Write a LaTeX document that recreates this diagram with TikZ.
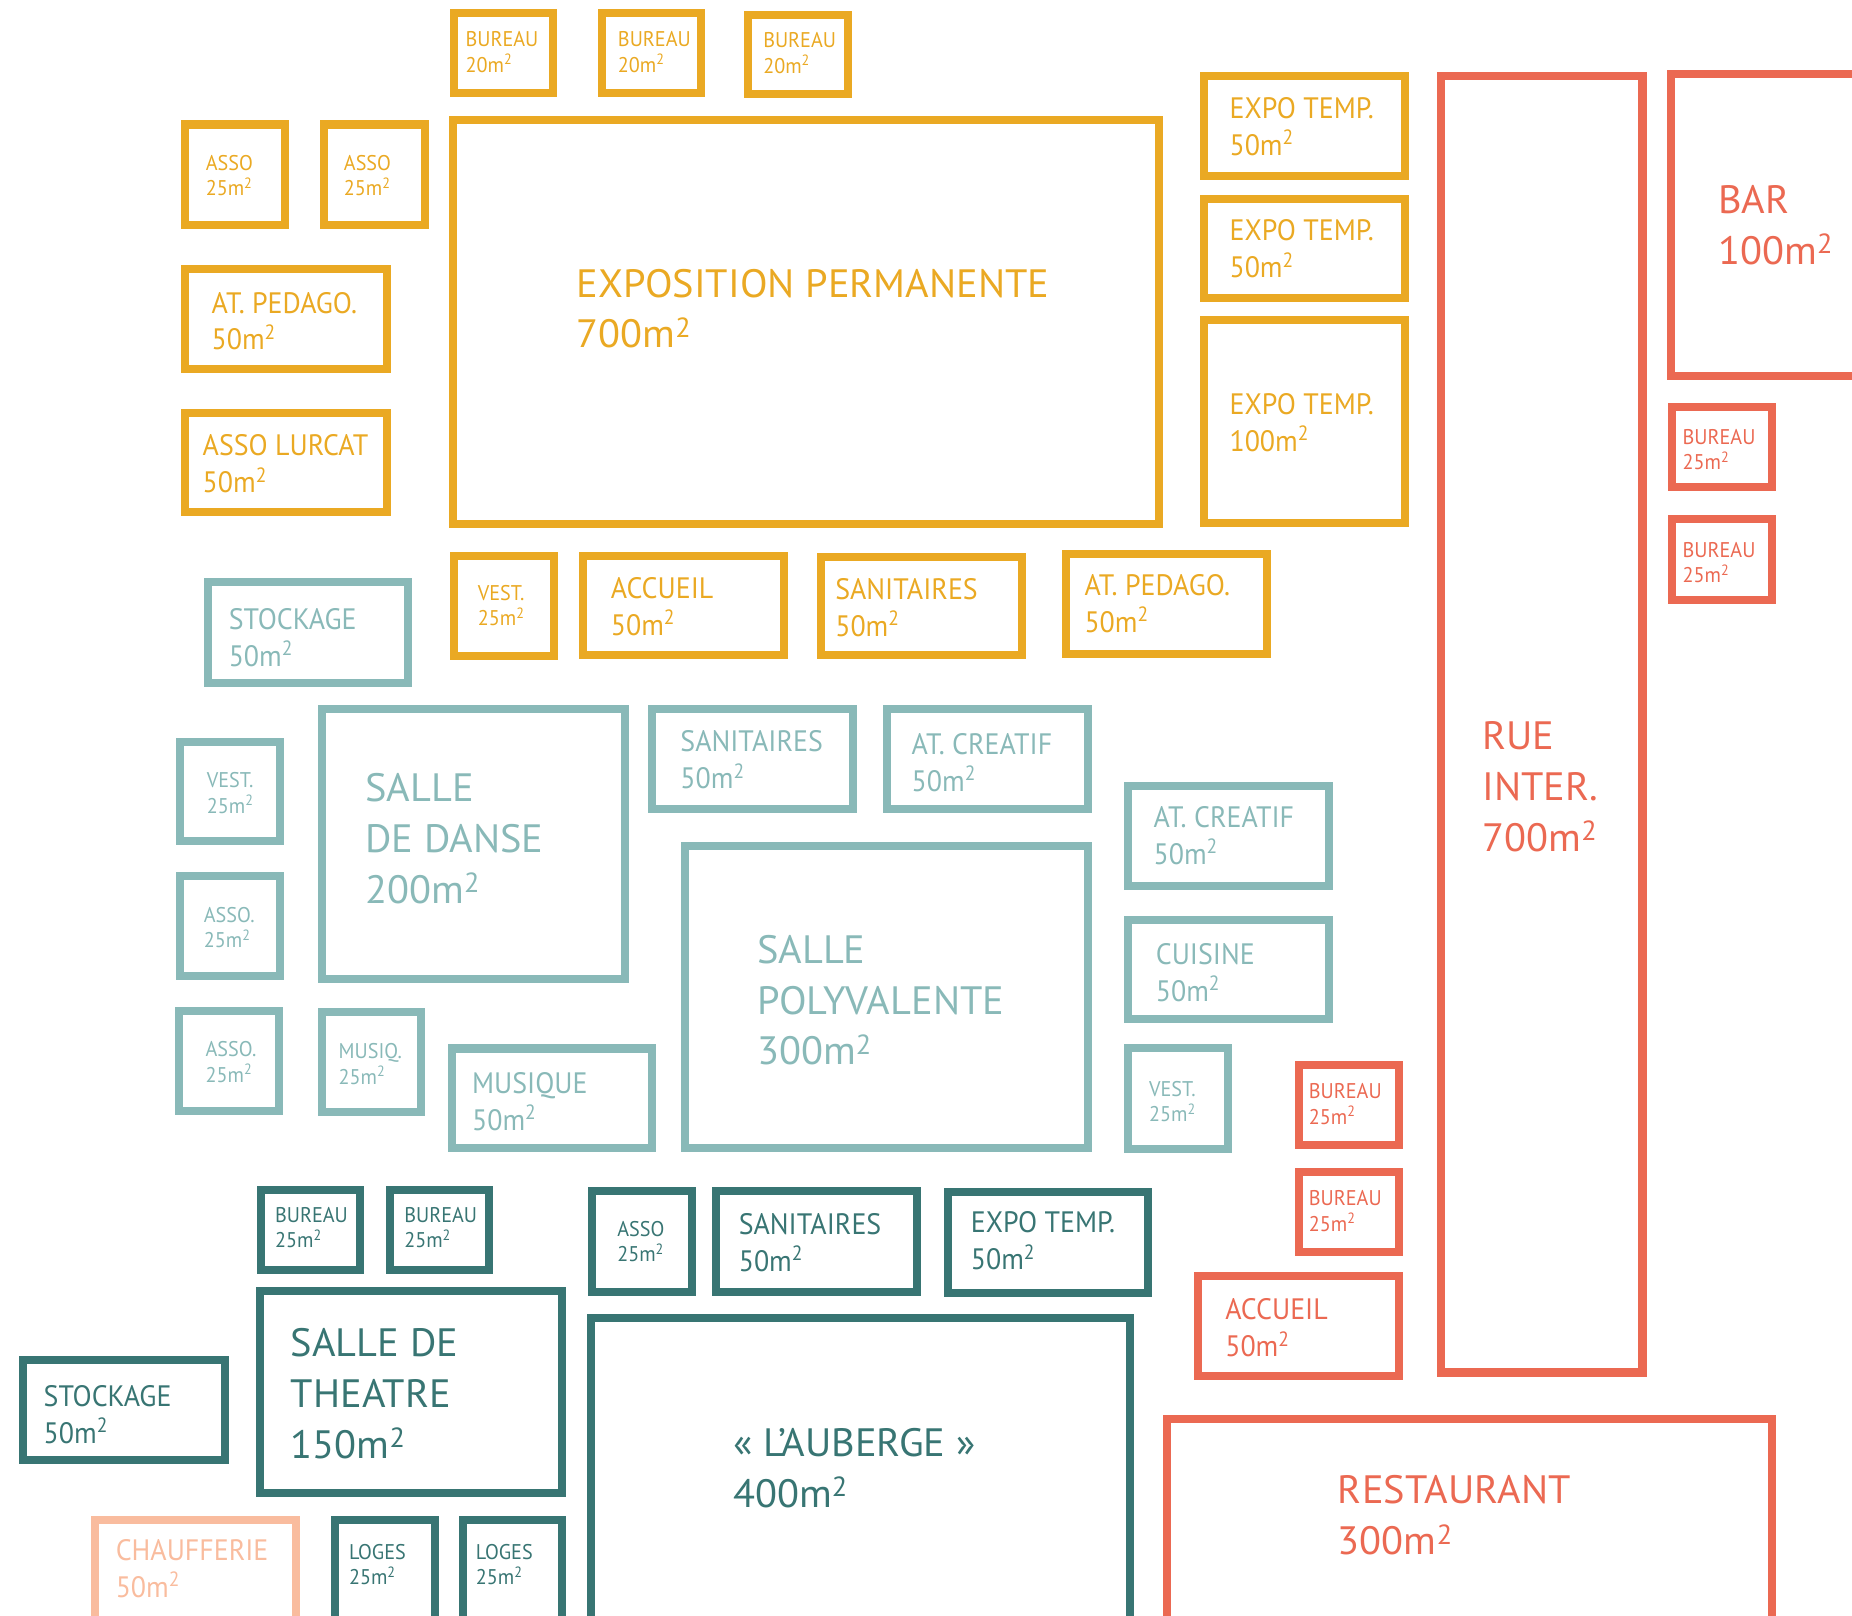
\documentclass[tikz,border=0pt]{standalone}
\usepackage{fontspec}
\setmainfont{PT Sans}
\newfontfamily\fS{PT Sans}[FakeStretch=0.95]
\newfontfamily\fM{PT Sans}[FakeStretch=0.945]
\newfontfamily\fB{PT Sans}[FakeStretch=1.02]
\definecolor{cO}{RGB}{234,169,35}
\definecolor{cR}{RGB}{235,105,82}
\definecolor{cL}{RGB}{137,185,184}
\definecolor{cD}{RGB}{56,117,115}
\definecolor{cP}{RGB}{249,188,158}
\newcommand\msq{m\textsuperscript{2}}
\tikzset{
  rm/.style={draw, line width=6.8pt, inner sep=0pt, outer sep=0.5\pgflinewidth, anchor=north west},
  tx/.style={inner sep=0pt, anchor=north west, align=left},
  tS/.style={tx, font=\fS\fontsize{18}{21.5}\selectfont},
  tM/.style={tx, font=\fM\fontsize{25}{31.3}\selectfont},
  tB/.style={tx, font=\fB\fontsize{33.5}{43}\selectfont},
}
% #1 colour, #2 name, #3 x1, #4 y1, #5 x2, #6 y2 (outer edges)
\newcommand\rbox[6]{\node[rm, draw=#1, minimum width={#5-#3-6.8}, minimum height={#6-#4-6.8}] (#2) at (#3,#4) {};}
% #1 size style, #2 colour, #3 name, #4 x, #5 cap top, #6 text
\newcommand\rtxt[6]{\node[#1, text=#2] (#3) at (#4,#5) {#6};}
\begin{document}
\begin{tikzpicture}[x=1pt,y=-1pt]
\useasboundingbox (0,0) rectangle (1568,1368);
\clip (0,0) rectangle (1568,1368);
% ---- orange
\rbox{cO}{o1}{381}{8}{472}{82.5}
\rtxt{tS}{cO}{o1t}{394}{26.5}{BUREAU\\20\msq}
\rbox{cO}{o2}{506}{8}{597}{82.5}
\rtxt{tS}{cO}{o2t}{523}{26.5}{BUREAU\\20\msq}
\rbox{cO}{o3}{630}{9}{721}{83}
\rtxt{tS}{cO}{o3t}{646}{27.5}{BUREAU\\20\msq}
\rbox{cO}{o4}{153}{102}{245}{194}
\rtxt{tS}{cO}{o4t}{174}{131}{ASSO\\25\msq}
\rbox{cO}{o5}{271}{102}{363}{194}
\rtxt{tS}{cO}{o5t}{291}{131}{ASSO\\25\msq}
\rbox{cO}{o6}{153}{224}{331}{316}
\rtxt{tM}{cO}{o6t}{179}{247}{AT. PEDAGO.\\50\msq}
\rbox{cO}{o7}{153}{346}{331}{437}
\rtxt{tM}{cO}{o7t}{171.4}{368}{ASSO LURCAT\\50\msq}
\rbox{cO}{o8}{380}{98.5}{985}{447}
\rtxt{tB}{cO}{o8t}{488}{227.4}{EXPOSITION PERMANENTE\\700\msq}
\rbox{cO}{o9}{1016}{61}{1193}{152}
\rtxt{tM}{cO}{o9t}{1040.8}{82}{EXPO TEMP.\\50\msq}
\rbox{cO}{o10}{1016}{164.7}{1193}{256}
\rtxt{tM}{cO}{o10t}{1040.8}{186}{EXPO TEMP.\\50\msq}
\rbox{cO}{o11}{1016}{267.8}{1193}{446}
\rtxt{tM}{cO}{o11t}{1040.8}{333}{EXPO TEMP.\\100\msq}
\rbox{cO}{o12}{381}{467}{472.5}{558.6}
\rtxt{tS}{cO}{o12t}{404.4}{495.3}{VEST.\\25\msq}
\rbox{cO}{o13}{490.6}{467}{667}{558}
\rtxt{tM}{cO}{o13t}{517}{488.6}{ACCUEIL\\50\msq}
\rbox{cO}{o14}{692}{468}{869}{558}
\rtxt{tM}{cO}{o14t}{707}{489.5}{SANITAIRES\\50\msq}
\rbox{cO}{o15}{899}{466}{1076}{557}
\rtxt{tM}{cO}{o15t}{918}{486}{AT. PEDAGO.\\50\msq}
% ---- red
\rbox{cR}{r1}{1216.7}{61}{1394}{1165.4}
\rtxt{tB}{cR}{r1t}{1255}{611}{RUE\\INTER.\\700\msq}
\rbox{cR}{r2}{1411.4}{59.6}{1620}{322}
\rtxt{tB}{cR}{r2t}{1454.6}{156.7}{BAR\\100\msq}
\rbox{cR}{r3}{1412}{340.8}{1503.5}{415.8}
\rtxt{tS}{cR}{r3t}{1424.4}{363.2}{BUREAU\\25\msq}
\rbox{cR}{r4}{1412}{436}{1503.5}{511.2}
\rtxt{tS}{cR}{r4t}{1424.4}{458.7}{BUREAU\\25\msq}
\rbox{cR}{r5}{1096}{898.2}{1187.5}{973.1}
\rtxt{tS}{cR}{r5t}{1108}{917.2}{BUREAU\\25\msq}
\rbox{cR}{r6}{1096}{989.1}{1187.5}{1063.6}
\rtxt{tS}{cR}{r6t}{1108}{1008}{BUREAU\\25\msq}
\rbox{cR}{r7}{1010.7}{1076.9}{1187.5}{1168.7}
\rtxt{tM}{cR}{r7t}{1037.2}{1099.5}{ACCUEIL\\50\msq}
\rbox{cR}{r8}{984.3}{1197.6}{1503.5}{1420}
\rtxt{tB}{cR}{r8t}{1132.6}{1249.2}{RESTAURANT\\300\msq}
% ---- light teal
\rbox{cL}{l1}{172.4}{489.6}{349.2}{581.7}
\rtxt{tM}{cL}{l1t}{193.5}{514.8}{STOCKAGE\\50\msq}
\rbox{cL}{l2}{149.3}{624.4}{240.8}{715.8}
\rtxt{tS}{cL}{l2t}{175}{653.9}{VEST.\\25\msq}
\rbox{cL}{l3}{149.3}{738.5}{240.8}{829.8}
\rtxt{tS}{cL}{l3t}{172.4}{767.6}{ASSO.\\25\msq}
\rbox{cL}{l4}{148.2}{852.5}{239.6}{943.9}
\rtxt{tS}{cL}{l4t}{173.9}{881.6}{ASSO.\\25\msq}
\rbox{cL}{l5}{269.1}{597.2}{532.2}{832.4}
\rtxt{tB}{cL}{l5t}{309.2}{654.8}{SALLE\\DE DANSE\\200\msq}
\rbox{cL}{l6}{269.1}{853.8}{359.8}{945.1}
\rtxt{tS}{cL}{l6t}{286.5}{883.3}{MUSIQ.\\25\msq}
\rbox{cL}{l7}{379.1}{884.3}{555.6}{975}
\rtxt{tM}{cL}{l7t}{399.5}{907.6}{MUSIQUE\\50\msq}
\rbox{cL}{l8}{548.7}{597.2}{725.2}{688.6}
\rtxt{tM}{cL}{l8t}{575.9}{618.6}{SANITAIRES\\50\msq}
\rbox{cL}{l9}{747.9}{597.2}{924.4}{688.6}
\rtxt{tM}{cL}{l9t}{771.7}{620.9}{AT. CREATIF\\50\msq}
\rbox{cL}{l10}{576.6}{713.2}{924.4}{975}
\rtxt{tB}{cL}{l10t}{640.9}{791.6}{SALLE\\POLYVALENTE\\300\msq}
\rbox{cL}{l11}{952}{662.1}{1128.5}{753.5}
\rtxt{tM}{cL}{l11t}{976.5}{682.4}{AT. CREATIF\\50\msq}
\rbox{cL}{l12}{952}{775.5}{1128.5}{866.4}
\rtxt{tM}{cL}{l12t}{978.4}{798.7}{CUISINE\\50\msq}
\rbox{cL}{l13}{952}{884.2}{1042.7}{975.9}
\rtxt{tS}{cL}{l13t}{972.7}{915}{VEST.\\25\msq}
% ---- dark teal
\rbox{cD}{d1}{217.6}{1004.2}{308}{1078.7}
\rtxt{tS}{cD}{d1t}{232.7}{1021.7}{BUREAU\\25\msq}
\rbox{cD}{d2}{327}{1004.2}{417.8}{1078.7}
\rtxt{tS}{cD}{d2t}{342.1}{1021.7}{BUREAU\\25\msq}
\rbox{cD}{d3}{497.8}{1004.7}{589.3}{1097}
\rtxt{tS}{cD}{d3t}{522.4}{1033.5}{ASSO\\25\msq}
\rbox{cD}{d4}{602.6}{1004.7}{779.4}{1097}
\rtxt{tM}{cD}{d4t}{625.3}{1027.3}{SANITAIRES\\50\msq}
\rbox{cD}{d5}{799.1}{1006.1}{975.6}{1097.8}
\rtxt{tM}{cD}{d5t}{821.8}{1025.9}{EXPO TEMP.\\50\msq}
\rbox{cD}{d6}{216.9}{1089.4}{479.4}{1267.2}
\rtxt{tB}{cD}{d6t}{246.1}{1124.7}{SALLE DE\\THEATRE\\150\msq}
\rbox{cD}{d7}{16.1}{1148.1}{193.5}{1239.8}
\rtxt{tM}{cD}{d7t}{36.8}{1172.9}{STOCKAGE\\50\msq}
\rbox{cD}{d8}{280.6}{1283.6}{371.6}{1420}
\rtxt{tS}{cD}{d8t}{295.3}{1307.3}{LOGES\\25\msq}
\rbox{cD}{d9}{388.3}{1283.6}{479.4}{1420}
\rtxt{tS}{cD}{d9t}{402.7}{1307.3}{LOGES\\25\msq}
\rbox{cD}{d10}{497.1}{1112.5}{959.8}{1420}
\rtxt{tB}{cD}{d10t}{620.4}{1209.3}{« L’AUBERGE »\\400\msq}
% ---- peach
\rbox{cP}{p1}{77}{1283.6}{253.8}{1420}
\rtxt{tM}{cP}{p1t}{97.8}{1303.3}{CHAUFFERIE\\50\msq}
\end{tikzpicture}
\end{document}
